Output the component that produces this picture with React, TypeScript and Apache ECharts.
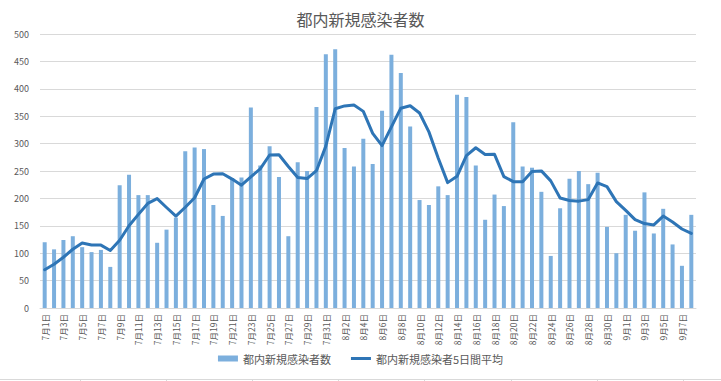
import React, { useEffect, useRef } from "react";
import * as echarts from "echarts";

const categories: string[] = [
  "7月1日","7月2日","7月3日","7月4日","7月5日","7月6日","7月7日","7月8日","7月9日","7月10日",
  "7月11日","7月12日","7月13日","7月14日","7月15日","7月16日","7月17日","7月18日","7月19日","7月20日",
  "7月21日","7月22日","7月23日","7月24日","7月25日","7月26日","7月27日","7月28日","7月29日","7月30日",
  "7月31日","8月1日","8月2日","8月3日","8月4日","8月5日","8月6日","8月7日","8月8日","8月9日",
  "8月10日","8月11日","8月12日","8月13日","8月14日","8月15日","8月16日","8月17日","8月18日","8月19日",
  "8月20日","8月21日","8月22日","8月23日","8月24日","8月25日","8月26日","8月27日","8月28日","8月29日",
  "8月30日","8月31日","9月1日","9月2日","9月3日","9月4日","9月5日","9月6日","9月7日","9月8日",
];

const dailyCases: number[] = [
  120, 107, 124, 131, 111, 102, 106, 75, 224, 243,
  206, 206, 119, 143, 165, 286, 293, 290, 188, 168,
  237, 238, 366, 260, 295, 239, 131, 266, 250, 367,
  463, 472, 292, 258, 309, 263, 360, 462, 429, 331,
  197, 188, 222, 206, 389, 385, 260, 161, 207, 186,
  339, 258, 256, 212, 95, 182, 236, 250, 226, 247,
  148, 100, 170, 141, 211, 136, 181, 116, 77, 170,
];

const fiveDayAverage: number[] = [
  69.8, 79.8, 92.6, 107.2, 118.6, 115.0, 114.8, 105.0, 123.6, 150.0,
  170.8, 190.8, 199.6, 183.4, 167.8, 183.8, 201.2, 235.4, 244.4, 245.0,
  235.2, 224.2, 239.4, 253.8, 279.2, 279.6, 258.2, 238.2, 236.2, 250.6,
  295.4, 363.6, 368.8, 370.4, 358.8, 318.8, 296.4, 330.4, 364.6, 369.0,
  355.8, 321.4, 273.4, 228.8, 240.4, 278.0, 292.4, 280.2, 280.4, 239.8,
  230.6, 230.2, 249.2, 250.2, 232.0, 200.6, 196.2, 195.0, 197.8, 228.2,
  221.4, 194.2, 178.2, 161.2, 154.0, 151.6, 167.8, 157.0, 144.2, 136.0,
];

const titleText = "都内新規感染者数";
const barName = "都内新規感染者数";
const lineName = "都内新規感染者5日間平均";

// spreadsheet column borders visible under the chart area
const sheetColumnX: number[] = [80, 166, 252, 338, 424, 511, 597, 683];

const FONT = '"Noto Sans CJK JP", "Noto Sans", sans-serif';

export default function App() {
  const ref = useRef<HTMLDivElement>(null);
  useEffect(() => {
    if (!ref.current) return;
    const chart = echarts.init(ref.current, undefined, { renderer: "svg" });
    chart.setOption({
      animation: false,
      backgroundColor: "#ffffff",
      textStyle: { fontFamily: FONT },
      title: {
        text: titleText,
        left: "center",
        top: 6,
        textStyle: { fontSize: 16, fontWeight: "normal", color: "#595959", fontFamily: FONT },
      },
      legend: {
        data: [
          { name: barName, icon: "rect" },
          { name: lineName, icon: "path://M0 0H20V3H0Z" },
        ],
        left: "center",
        top: 348,
        itemWidth: 20,
        itemHeight: 6,
        itemGap: 20,
        textStyle: { fontSize: 11, color: "#595959", fontFamily: FONT },
      },
      graphic: [
        {
          type: "line",
          shape: { x1: 0, y1: 379.5, x2: 721, y2: 379.5 },
          style: { stroke: "#d9d9d9", lineWidth: 1 },
          silent: true,
        },
        ...sheetColumnX.map((x) => ({
          type: "line",
          shape: { x1: x + 0.5, y1: 379, x2: x + 0.5, y2: 381 },
          style: { stroke: "#d9d9d9", lineWidth: 1 },
          silent: true,
        })),
      ],
      grid: { left: 40, right: 25, top: 34, bottom: 73 },
      xAxis: {
        type: "category",
        data: categories,
        boundaryGap: true,
        axisTick: { show: false },
        axisLine: { lineStyle: { color: "#d9d9d9", width: 1 } },
        axisLabel: {
          interval: 1,
          rotate: 90,
          fontSize: 8.5,
          color: "#595959",
          margin: 6,
          fontFamily: FONT,
        },
      },
      yAxis: {
        type: "value",
        min: 0,
        max: 500,
        interval: 50,
        axisLine: { show: false },
        axisTick: { show: false },
        splitLine: { lineStyle: { color: "#d9d9d9", width: 1 } },
        axisLabel: { fontSize: 9, color: "#595959", margin: 11, fontFamily: FONT },
      },
      series: [
        {
          name: barName,
          type: "bar",
          data: dailyCases,
          barWidth: 4,
          itemStyle: { color: "#7cafdd" },
        },
        {
          name: lineName,
          type: "line",
          data: fiveDayAverage,
          symbol: "none",
          smooth: false,
          lineStyle: { color: "#2e75b6", width: 3, cap: "round", join: "round" },
          itemStyle: { color: "#2e75b6" },
        },
      ],
    });
    return () => chart.dispose();
  }, []);
  return (
    <div
      ref={ref}
      style={{ position: "fixed", left: 0, top: 0, width: 721, height: 381 }}
    />
  );
}
